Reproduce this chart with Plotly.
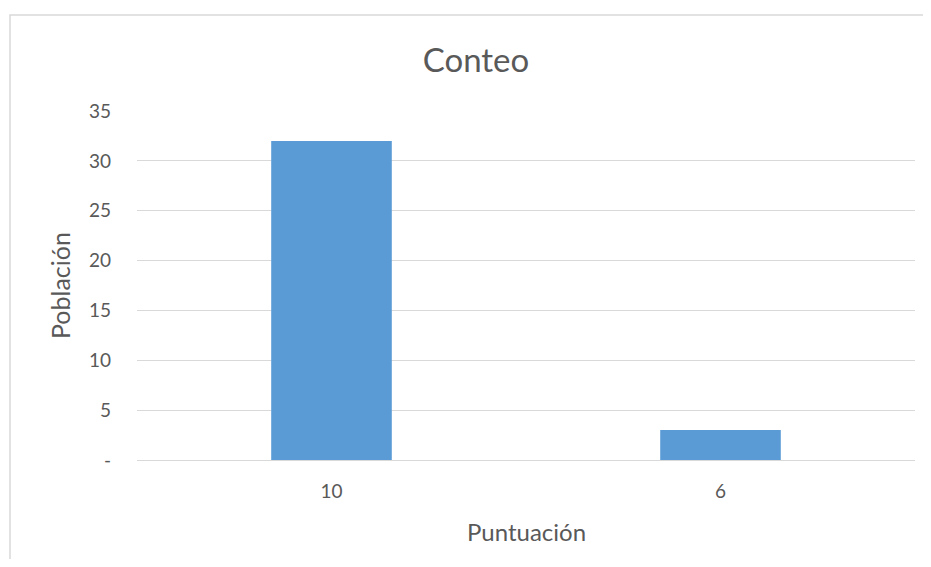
import plotly.graph_objects as go

categories = ["10", "6"]
values = [32, 3]
y_tickvals = [0, 5, 10, 15, 20, 25, 30, 35]
y_ticktext = ["-", "5", "10", "15", "20", "25", "30", "35"]

# The page body has an 8px margin, so figure coords = page coords - 8.
# Keep the figure small enough that the page never gets scrollbars.
OFF = 8
W, H = 931 - 2 * OFF, 567 - 2 * OFF
L = 137 - OFF
T = 111 - OFF
R = W - (915 - OFF)
B = H - (460 - OFF)
pw, ph = W - L - R, H - T - B

font_family = "Lato, Carlito, Calibri, sans-serif"
txt = "#595959"
grid = "#d9d9d9"


def px(x):
    return (x - OFF - L) / pw


def py(y):
    return (T + ph - (y - OFF)) / ph


fig = go.Figure(go.Bar(x=categories, y=values, marker=dict(color="#5b9bd5", line=dict(width=0))))

fig.update_layout(
    width=W, height=H,
    margin=dict(l=L, r=R, t=T, b=B),
    paper_bgcolor="white", plot_bgcolor="white",
    font=dict(family=font_family, color=txt, size=19),
    bargap=0.69,
    showlegend=False,
    title=dict(text="Conteo", x=(476 - OFF) / W, xref="container", xanchor="center",
               y=1 - (60 - OFF) / H, yref="container", yanchor="middle",
               font=dict(size=33, color=txt, family=font_family)),
    xaxis=dict(type="category", showgrid=False, showline=True, linecolor=grid, linewidth=1,
               ticks="", tickfont=dict(size=19, color=txt), ticklabelstandoff=14),
    yaxis=dict(range=[0, 35], tickvals=y_tickvals, ticktext=y_ticktext,
               showgrid=True, gridcolor=grid, gridwidth=1, zeroline=False, showline=False,
               ticks="", tickfont=dict(size=19, color=txt), ticklabelstandoff=25),
)

fig.add_annotation(text="Puntuación", xref="paper", yref="paper", x=px(526), y=py(531),
                   xanchor="center", yanchor="middle", showarrow=False,
                   font=dict(size=24, color=txt, family=font_family))
fig.add_annotation(text="Población", xref="paper", yref="paper", x=px(60), y=py(286),
                   xanchor="center", yanchor="middle", showarrow=False, textangle=-90,
                   font=dict(size=25, color=txt, family=font_family))

# chart-area border (right and bottom edges run off the page, as in the reference)
fig.add_shape(type="rect", xref="paper", yref="paper",
              x0=px(10), x1=px(W + 60), y0=py(H + 60), y1=py(15),
              line=dict(color=grid, width=1.5), fillcolor="rgba(0,0,0,0)", layer="below")

fig.write_html("out.html")
